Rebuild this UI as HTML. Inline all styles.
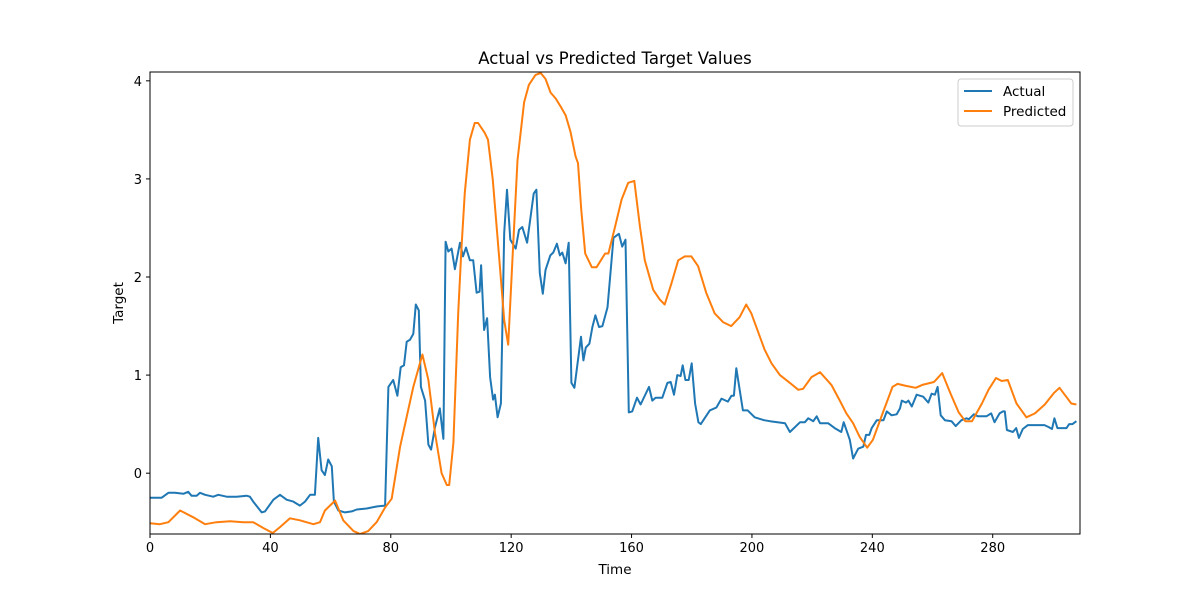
<!DOCTYPE html>
<html><head><meta charset="utf-8"><style>
body{margin:0;background:#fff}
svg{display:block;font-family:"DejaVu Sans","Liberation Sans",sans-serif}
</style></head><body>
<svg id="chart" width="1200" height="600" viewBox="0 0 1200 600"></svg>
<script>
const actualTimes=[0,3.9,6.1,8.3,11.1,12.7,13.8,15.5,16.6,18.3,21,22.7,25.5,28.8,32.1,33.2,34.3,37.1,38.2,41,43.2,45.4,47.6,49.8,51.5,53.2,54.8,55.9,57,58.1,59.2,60.4,61.1,62.6,64.8,67,68.7,72,75.3,78.1,79.2,80.8,82.2,83.3,84.4,85.3,86.4,87.5,88.3,89.3,90,91.4,92.5,93.4,94.7,96.3,97.5,98.2,99.1,100.2,101.3,103,104,105,106.3,107.4,108.5,109.5,110,111,112,113,114,114.6,115.5,116.6,117.7,118.6,119.7,121.5,122.6,123.7,125.3,127.5,128.4,129.5,130.5,131.4,133,134,135.2,136.2,137,138.1,139.1,140,141,143.2,144,144.8,146,147,148,149.2,150.3,152,154,155.8,156.9,158,159.1,160.2,161.8,163,165.8,166.9,168,170.2,171.9,173,174.1,175.2,176.3,177,177.9,179,180,181.1,182.2,183,186,188.2,189.9,192,193.2,194,194.8,197,198.6,200.9,204,206,211,212.6,216,217.6,218.7,220.4,221.5,222.6,225.3,227.5,229.7,230.5,232.5,233.6,235.3,237,237.9,239,239.8,241.5,243.7,244.8,246.4,248.1,249.2,249.8,251.2,252,253.1,254.7,256.9,258.6,259.7,260.8,261.7,262.7,264.1,266.3,267.7,269.6,271.3,272.1,273.7,275.1,277.9,279.5,280.6,282.3,283.4,284,284.7,286.7,287.8,288.7,290,291.7,294.4,297.2,298.6,299.7,300.5,301.5,304.5,305.4,306.5,307.8];
const actualValues=[-0.25,-0.25,-0.2,-0.2,-0.21,-0.19,-0.23,-0.23,-0.2,-0.22,-0.24,-0.22,-0.24,-0.24,-0.23,-0.24,-0.29,-0.4,-0.39,-0.27,-0.22,-0.27,-0.29,-0.33,-0.29,-0.22,-0.22,0.36,0.03,-0.02,0.14,0.07,-0.29,-0.38,-0.4,-0.39,-0.37,-0.36,-0.34,-0.33,0.88,0.95,0.79,1.08,1.1,1.34,1.36,1.42,1.72,1.66,0.88,0.74,0.29,0.24,0.47,0.66,0.35,2.36,2.26,2.29,2.08,2.35,2.21,2.3,2.17,2.17,1.84,1.85,2.12,1.46,1.58,0.98,0.75,0.8,0.57,0.71,2.45,2.89,2.38,2.29,2.48,2.51,2.35,2.85,2.89,2.04,1.83,2.07,2.22,2.25,2.34,2.22,2.25,2.14,2.35,0.92,0.87,1.39,1.15,1.28,1.32,1.49,1.61,1.49,1.5,1.69,2.4,2.44,2.31,2.38,0.62,0.63,0.77,0.7,0.88,0.74,0.77,0.77,0.92,0.93,0.8,1.0,0.99,1.1,0.95,0.95,1.12,0.71,0.52,0.5,0.64,0.67,0.76,0.73,0.79,0.79,1.07,0.64,0.64,0.57,0.54,0.53,0.51,0.42,0.52,0.52,0.56,0.53,0.58,0.51,0.51,0.46,0.42,0.52,0.34,0.15,0.25,0.27,0.39,0.39,0.46,0.54,0.54,0.63,0.59,0.6,0.66,0.74,0.72,0.74,0.68,0.8,0.78,0.72,0.81,0.8,0.88,0.59,0.54,0.53,0.48,0.54,0.56,0.55,0.6,0.58,0.58,0.61,0.52,0.61,0.63,0.63,0.44,0.42,0.46,0.36,0.45,0.49,0.49,0.49,0.47,0.45,0.56,0.46,0.46,0.5,0.5,0.53];
const predTimes=[0,3.3,6.1,10,14.4,18.3,22.1,26.6,31,34.3,37.7,40.8,43.2,46.5,49.8,54.3,56.5,58.1,61.5,64.2,67.6,69.8,72.5,75.3,78.1,80.3,83.1,87.5,90.5,92.5,94.7,96.9,98.6,99.4,100.8,102.4,103.5,104.6,106.3,107.9,109,111.2,112.3,113.9,116.1,117.7,119,120.4,122.1,124.3,125.9,128.1,129.8,131.4,133.1,134.8,136.4,138.1,139.7,141.4,142.2,143.3,144.6,146.8,148.4,151.2,152.3,154.5,156.7,158.9,160.9,162.8,164.4,167.2,169.4,171,173.3,175.5,177.7,179.9,182.1,184.8,187.6,190.4,193.1,195.9,198.1,199.8,204.2,206.5,209.3,212.6,215.4,217,219.8,222.6,226.4,229.2,231.4,233.6,235.8,238.3,240.2,243.4,246.7,248.4,251.2,254.4,256.6,260.5,263.2,266,268.7,270.9,273.1,276.4,278.6,281.1,283,285,287.9,291.2,294,297.3,300.4,302.2,304.4,306.1,307.8];
const predValues=[-0.51,-0.52,-0.5,-0.38,-0.45,-0.52,-0.5,-0.49,-0.5,-0.5,-0.56,-0.61,-0.55,-0.46,-0.48,-0.52,-0.5,-0.38,-0.28,-0.48,-0.59,-0.62,-0.59,-0.5,-0.35,-0.26,0.27,0.88,1.21,0.95,0.41,0.0,-0.12,-0.12,0.31,1.63,2.3,2.86,3.4,3.57,3.57,3.47,3.4,2.99,2.17,1.56,1.31,2.17,3.19,3.78,3.96,4.06,4.08,4.02,3.88,3.82,3.74,3.65,3.48,3.23,3.16,2.68,2.24,2.1,2.1,2.24,2.24,2.51,2.79,2.96,2.98,2.51,2.17,1.87,1.77,1.72,1.94,2.17,2.21,2.21,2.11,1.84,1.63,1.54,1.5,1.59,1.72,1.63,1.26,1.12,1.0,0.92,0.85,0.86,0.98,1.03,0.9,0.74,0.61,0.51,0.37,0.26,0.34,0.61,0.88,0.91,0.89,0.87,0.9,0.93,1.02,0.81,0.62,0.53,0.53,0.71,0.85,0.97,0.94,0.95,0.71,0.57,0.61,0.7,0.82,0.87,0.78,0.71,0.7];
const xTicks=[0,40,80,120,160,200,240,280];
const yTicks=[0,1,2,3,4];

const NS="http://www.w3.org/2000/svg";
const svg=document.getElementById('chart');
const L=150,R=1080,T=72,B=534,X0=0,X1=309,Y0=-0.62,Y1=4.09;
function xs(t){return L+(t-X0)/(X1-X0)*(R-L);}
function ys(v){return B-(v-Y0)/(Y1-Y0)*(B-T);}
function mk(tag,attrs){const e=document.createElementNS(NS,tag);for(const k in attrs)e.setAttribute(k,attrs[k]);svg.appendChild(e);return e;}

const clip=document.createElementNS(NS,'clipPath');clip.setAttribute('id','c');
const cr=document.createElementNS(NS,'rect');cr.setAttribute('x',L);cr.setAttribute('y',T);cr.setAttribute('width',R-L);cr.setAttribute('height',B-T);
clip.appendChild(cr);svg.appendChild(clip);

function series(ts,vs,color,name){
  const d=ts.map((t,i)=>(i?'L':'M')+xs(t).toFixed(1)+','+ys(vs[i]).toFixed(1)).join('');
  const p=mk('path',{d:d,fill:'none',stroke:color,'stroke-width':2,'stroke-linejoin':'round','clip-path':'url(#c)'});
  
  
}
series(actualTimes,actualValues,'#1f77b4','actual-line');
series(predTimes,predValues,'#ff7f0e','predicted-line');

const frame=mk('rect',{x:L,y:T,width:R-L,height:B-T,fill:'none',stroke:'#000','stroke-width':1});



xTicks.forEach(t=>{
  const x=xs(t);
  const ln=mk('line',{x1:x,x2:x,y1:B,y2:B+4,stroke:'#000'});
  
  
  const tx=mk('text',{x:x,y:B+18,'text-anchor':'middle','font-size':13});
  tx.textContent=t;
  
  
});
yTicks.forEach(v=>{
  const y=ys(v);
  const ln=mk('line',{x1:L-4,x2:L,y1:y,y2:y,stroke:'#000'});
  
  
  const tx=mk('text',{x:L-8,y:y+5,'text-anchor':'end','font-size':13});
  tx.textContent=v;
  
  
});
</script>
<svg style="position:absolute;left:0;top:0" width="1200" height="600">
<text x="615" y="64" text-anchor="middle" font-size="16.5" font-family="DejaVu Sans,sans-serif">Actual vs Predicted Target Values</text>
<text x="615" y="574" text-anchor="middle" font-size="13.5" font-family="DejaVu Sans,sans-serif">Time</text>
<text x="123" y="303" text-anchor="middle" font-size="13.5" font-family="DejaVu Sans,sans-serif" transform="rotate(-90 123 303)">Target</text>
<g>
<rect x="958" y="79" width="115" height="47" rx="3" fill="#fff" fill-opacity="0.8" stroke="#ccc"/>
<line x1="964" y1="91" x2="992" y2="91" stroke="#1f77b4" stroke-width="2"/>
<text x="1003" y="96" font-size="13.5" font-family="DejaVu Sans,sans-serif">Actual</text>
<line x1="964" y1="111" x2="992" y2="111" stroke="#ff7f0e" stroke-width="2"/>
<text x="1003" y="116" font-size="13.5" font-family="DejaVu Sans,sans-serif">Predicted</text>
</g>
</svg>
</body></html>
